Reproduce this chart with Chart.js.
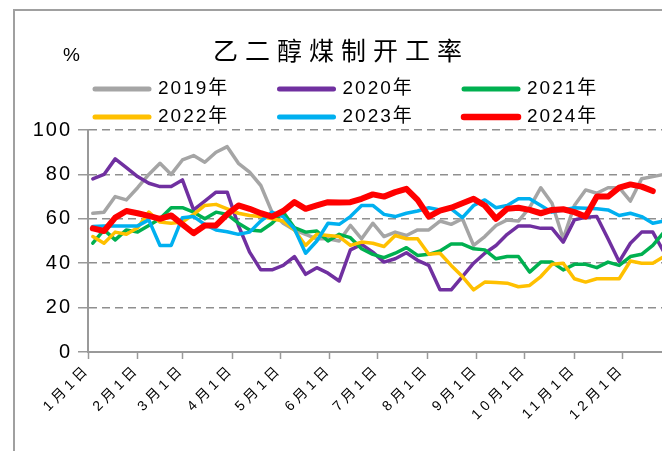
<!DOCTYPE html>
<html lang="zh">
<head>
<meta charset="utf-8">
<title>乙二醇煤制开工率</title>
<script src="https://cdn.jsdelivr.net/npm/chart.js@4.4.1/dist/chart.umd.min.js"></script>
<style>
  html, body { margin: 0; padding: 0; background: #fff; overflow: hidden; }
  canvas { display: block; }
</style>
</head>
<body>
<canvas id="rateChart" width="690" height="470"></canvas>
<script>
// x axis: day of year, labelled at the first of each month
const monthStarts = [0, 31, 59, 90, 120, 151, 181, 212, 243, 273, 304, 334];
const monthLabels = ['1月1日', '2月1日', '3月1日', '4月1日', '5月1日', '6月1日',
  '7月1日', '8月1日', '9月1日', '10月1日', '11月1日', '12月1日'];
const yTicks = [0, 20, 40, 60, 80, 100];

const seriesNames = ['2019年', '2020年', '2021年', '2022年', '2023年', '2024年'];

// weekly operating rate, %
const rate2019 = [62.5, 63, 70, 68.5, 74, 80, 85, 80, 86.5, 88.5, 85.5, 90, 92.5, 85, 81, 75, 63, 58, 55, 53,
  51, 51, 50, 57, 51, 58, 52, 54, 52.5, 55, 55, 59, 57.5, 60, 48, 52, 57, 59.5, 59, 65,
  74, 67, 51, 66, 73, 71.5, 74, 74, 68, 78, 79, 80];
const rate2020 = [78, 80, 87, 83, 79, 76, 74.5, 74.5, 77.5, 64, 68, 72, 72, 57, 45, 37, 37, 39, 43, 35,
  38, 35.5, 32, 46, 48.5, 45, 40.5, 42, 44.7, 41.3, 39, 28, 28, 34, 40, 44.5, 48, 53, 56.8, 56.8,
  55.7, 55.7, 49.5, 59.5, 60.7, 61, 51, 40.7, 49, 54, 54, 45];
const rate2021 = [49, 55, 50.5, 55, 54, 57, 60, 65, 65, 63, 60, 63, 62, 58, 55, 54.5, 58, 63, 56, 54,
  54.5, 50, 53, 51.5, 46.5, 44, 42.5, 44.5, 47, 43.5, 44, 45.5, 48.6, 48.6, 46.5, 46, 42, 43, 43, 36,
  40.5, 40.5, 37, 39.5, 39.5, 38, 40.5, 39, 43, 44, 48, 54];
const rate2022 = [52, 49, 54, 53, 56, 63, 58.5, 58, 58.5, 62, 66, 66.5, 64.5, 62.5, 61.5, 61, 60, 59, 55, 48,
  53, 52.5, 52, 48, 49.5, 49, 47.5, 52.5, 51, 51, 44, 44.5, 39, 34, 28, 31.5, 31.3, 31, 29.4, 30,
  34, 39.5, 40, 33, 31.5, 33, 33, 33, 41, 40, 40, 43];
const rate2023 = [56.5, 56.8, 56.8, 56.8, 56.8, 59.5, 48, 48, 60.5, 61, 57.5, 55, 54.2, 53, 54, 59, 63, 61, 55.5, 44.5,
  50, 58, 57.5, 61, 66, 66, 62, 61, 62.5, 63.5, 65, 64, 64.5, 60.5, 66, 68.5, 65, 66, 69, 69,
  66, 63, 64, 65, 64.7, 64.5, 64, 61.5, 62.5, 61, 58, 59];
const rate2024 = [55.7, 54.5, 60.5, 63.5, 62.5, 61.3, 60, 61.5, 57.5, 53.5, 57, 57, 62, 66, 64.5, 62.5, 61, 63.5, 67.5, 64.5,
  66, 67.5, 67.3, 67.5, 69, 71, 70, 72, 73.5, 68.5, 61, 63.7, 65, 67, 69, 66, 60, 64.5, 65, 64,
  62.5, 64, 64.3, 63, 61, 70, 70, 74, 75.5, 74.5, 72.5];

const seriesValues = [rate2019, rate2020, rate2021, rate2022, rate2023, rate2024];
const seriesColors = ['#A5A5A5', '#7030A0', '#00B050', '#FFC000', '#00B0F0', '#FF0000'];

const FONT = "'Liberation Sans', 'Noto Sans CJK SC', sans-serif";
const CJK = "'Noto Sans CJK SC', sans-serif";

// run a scale's label drawing with loosened letter spacing
function spaceLabels(scale, spacing) {
  if (scale._spaced) return;
  const draw = scale.drawLabels;
  scale.drawLabels = function (area) {
    const ctx = this.ctx;
    const prev = ctx.letterSpacing;
    ctx.letterSpacing = spacing;
    draw.call(this, area);
    ctx.letterSpacing = prev;
  };
  scale._spaced = true;
}

// frame, title, unit and legend are painted around the plot area
const chartDecor = {
  id: 'chartDecor',
  beforeDraw(chart) {
    const { ctx, width, height } = chart;
    ctx.save();
    ctx.fillStyle = '#fff';
    ctx.fillRect(0, 0, width, height);
    ctx.strokeStyle = '#a0a0a0';
    ctx.lineWidth = 2;
    ctx.strokeRect(14, 10, width - 28, height - 20);
    ctx.restore();
    spaceLabels(chart.scales.x, '4px');
    spaceLabels(chart.scales.y, '2px');
  },
  afterDraw(chart) {
    const ctx = chart.ctx;
    ctx.save();
    ctx.fillStyle = '#000';
    ctx.textAlign = 'left';
    ctx.textBaseline = 'middle';

    ctx.letterSpacing = '7px';
    ctx.font = '25px ' + CJK;
    ctx.fillText('乙二醇煤制开工率', 213, 50);

    ctx.letterSpacing = '0px';
    ctx.font = '19px ' + FONT;
    ctx.fillText('%', 63, 56);

    ctx.letterSpacing = '2px';
    chart.data.datasets.forEach((ds, i) => {
      const x0 = 93 + (i % 3) * 184.5;
      const y = 89 + Math.floor(i / 3) * 28;
      ctx.strokeStyle = ds.borderColor;
      ctx.lineWidth = i === 5 ? 6.5 : 5;
      ctx.lineCap = 'round';
      ctx.beginPath();
      ctx.moveTo(x0 + 2, y);
      ctx.lineTo(x0 + 56, y);
      ctx.stroke();
      ctx.fillText(ds.label, x0 + 65, y);
    });
    ctx.restore();
  }
};

new Chart(document.getElementById('rateChart'), {
  type: 'line',
  data: {
    datasets: seriesValues.map((vals, k) => ({
      label: seriesNames[k],
      data: vals.map((v, i) => ({ x: 3 + 7 * i, y: v })),
      borderColor: seriesColors[k],
      backgroundColor: seriesColors[k],
      borderWidth: k === 5 ? 6 : 3.5,
      borderJoinStyle: 'round',
      borderCapStyle: 'round',
      pointRadius: 0,
      tension: 0,
      fill: false,
      order: 5 - k
    }))
  },
  options: {
    responsive: false,
    animation: false,
    layout: { padding: { top: 130, left: 0, right: 18, bottom: 0 } },
    plugins: {
      legend: { display: false },
      title: { display: false },
      tooltip: { enabled: false }
    },
    scales: {
      x: {
        type: 'linear',
        min: 0,
        max: 365,
        afterBuildTicks: scale => { scale.ticks = monthStarts.map(v => ({ value: v })); },
        afterFit: scale => { scale.height = 118; },
        ticks: {
          autoSkip: false,
          minRotation: 45,
          maxRotation: 45,
          padding: 2,
          color: '#000',
          font: { size: 14, family: FONT },
          callback: (value, index) => monthLabels[index]
        },
        grid: { drawOnChartArea: false, drawTicks: true, tickLength: 7, tickColor: '#999', tickWidth: 1.5 },
        border: { color: '#999', width: 2 }
      },
      y: {
        min: 0,
        max: 100,
        afterBuildTicks: scale => { scale.ticks = yTicks.map(v => ({ value: v })); },
        afterFit: scale => { scale.width = 88; },
        ticks: {
          padding: 6,
          color: '#000',
          font: { size: 20, family: FONT }
        },
        grid: {
          color: c => (c.tick && c.tick.value === 0 ? 'rgba(0,0,0,0)' : '#8f8f8f'),
          lineWidth: 1.5,
          tickColor: '#999',
          tickLength: 10,
          tickWidth: 1.5
        },
        border: { color: '#999', width: 2, dash: [8, 5] }
      }
    }
  },
  plugins: [chartDecor]
});
</script>
</body>
</html>
